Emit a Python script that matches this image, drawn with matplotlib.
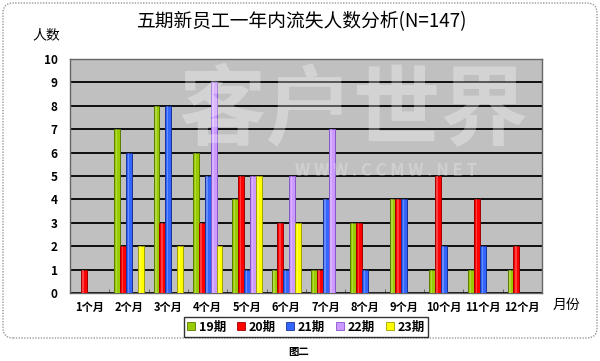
import matplotlib
matplotlib.use("Agg")
import matplotlib.pyplot as plt
import numpy as np
from matplotlib.patches import FancyBboxPatch
from matplotlib.lines import Line2D

plt.rcParams['font.family'] = ['Noto Sans CJK SC', 'DejaVu Sans']

months = ["1个月", "2个月", "3个月", "4个月", "5个月", "6个月",
          "7个月", "8个月", "9个月", "10个月", "11个月", "12个月"]
series_names = ["19期", "20期", "21期", "22期", "23期"]
s19 = [0, 7, 8, 6, 4, 1, 1, 3, 4, 1, 1, 1]
s20 = [1, 2, 3, 3, 5, 3, 1, 3, 4, 5, 4, 2]
s21 = [0, 6, 8, 5, 1, 1, 4, 1, 4, 2, 2, 0]
s22 = [0, 0, 0, 9, 5, 5, 7, 0, 0, 0, 0, 0]
s23 = [0, 2, 2, 2, 5, 3, 0, 0, 0, 0, 0, 0]
yticks = list(range(0, 11))

series = [s19, s20, s21, s22, s23]
colors = ["#99cc00", "#ff0000", "#3366ff", "#cc99ff", "#ffff00"]
edges = ["#5a7a00", "#a00000", "#1a3399", "#8855cc", "#a0a000"]

W, H = 600, 361
fig = plt.figure(figsize=(W / 100, H / 100), dpi=100)
fig.patch.set_facecolor("white")

ax = fig.add_axes([70 / W, 1 - 293 / H, (542 - 70) / W, (293 - 59) / H])
ax.set_facecolor("#c0c0c0")

x = np.arange(len(months))
bw = 0.15
for i, (vals, c, ec) in enumerate(zip(series, colors, edges)):
    ax.bar(x + (i - 2) * bw, vals, width=bw, color=c, edgecolor=ec,
           linewidth=0.7, zorder=3, label=series_names[i])
    ax.bar(x + (i - 2) * bw - bw * 0.1, vals, width=bw * 0.25, color="white",
           alpha=0.25, linewidth=0, zorder=3.5)

ax.set_xlim(-0.5, len(months) - 0.5)
ax.set_ylim(0, 10)
ax.set_yticks(yticks)
ax.set_yticklabels([str(v) for v in yticks], fontsize=8.5, fontweight='bold')
ax.yaxis.grid(True, color="black", linewidth=1.3, zorder=1)
ax.set_axisbelow(True)
ax.tick_params(axis='y', length=0, pad=9)

ax.set_xticks(x)
ax.set_xticklabels(months, fontsize=8, fontweight='bold')
ax.set_xticks(np.arange(0.5, len(months) - 0.5, 1), minor=True)
ax.tick_params(axis='x', which='major', length=0, pad=6)
ax.tick_params(axis='x', which='minor', direction='in', length=3, color="#555555")

for s in ax.spines.values():
    s.set_color("#666666")
    s.set_linewidth(1.0)

# watermark
ax.text(0.60, 0.77, "客户世界", transform=ax.transAxes, ha='center', va='center',
        fontsize=63, fontweight='bold', color='white', alpha=0.3, zorder=6,
        clip_on=True)
ax.text(0.67, 0.52, "W W W . C C M W . N E T", transform=ax.transAxes,
        ha='center', va='center', fontsize=12, fontweight='bold',
        color='white', alpha=0.25, zorder=6, clip_on=True)

# titles/labels
fig.text(302 / W, 1 - 22 / H, "五期新员工一年内流失人数分析(N=147)", ha='center',
         va='center', fontsize=13.5)
fig.text(46 / W, 1 - 35 / H, "人数", ha='center', va='center', fontsize=10)
fig.text(566 / W, 1 - 305 / H, "月份", ha='center', va='center', fontsize=10)
fig.text(299 / W, 1 - 352 / H, "图二", ha='center', va='center', fontsize=7.5,
         fontweight='bold')

handles = [Line2D([0], [0], marker='s', linestyle='none', markersize=6,
                  markerfacecolor=c, markeredgecolor=ec, markeredgewidth=0.6)
           for c, ec in zip(colors, edges)]
leg = fig.legend(handles, series_names, loc='center', bbox_to_anchor=(306 / W, 1 - 327 / H),
                 ncol=5, frameon=True, fancybox=False, edgecolor='black',
                 handlelength=0.6, handletextpad=0.3, columnspacing=0.9,
                 borderpad=0.25, prop={'weight': 'bold', 'size': 9})
leg.get_frame().set_linewidth(1.0)

# rounded dotted frame
frame = FancyBboxPatch((3, H - 338), 594, 335, boxstyle="round,pad=0,rounding_size=10",
                       transform=None, fill=False, edgecolor="#999999",
                       linestyle=(0, (1, 1)), linewidth=1.0)
fig.add_artist(frame)

fig.savefig("out.png", dpi=100)
